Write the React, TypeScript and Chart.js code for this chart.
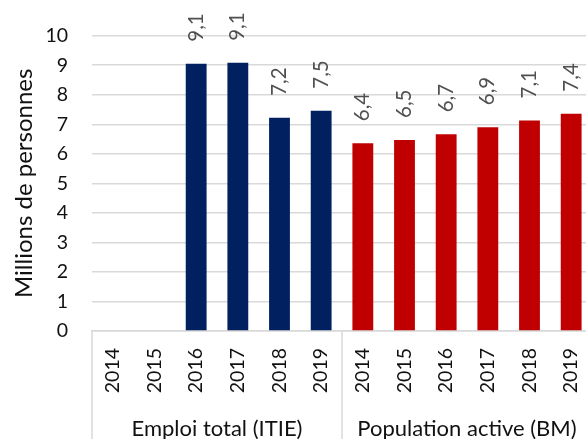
import React, { useEffect, useRef } from "react";
import { Chart, registerables } from "chart.js";

Chart.register(...registerables);

const categories = ["2014", "2015", "2016", "2017", "2018", "2019", "2014", "2015", "2016", "2017", "2018", "2019"];
const groups = ["Emploi total (ITIE)", "Population active (BM)"];
const emploiTotal: (number | null)[] = [null, null, 9.05, 9.08, 7.22, 7.46];
const populationActive: (number | null)[] = [6.36, 6.47, 6.66, 6.9, 7.13, 7.36];
const yTitle = "Millions de personnes";
const yMin = 0;
const yMax = 10;

const FONT = "Lato";

const fmt = (v: number) => v.toFixed(1).replace(".", ",");

const overlay = {
  id: "overlay",
  afterDatasetsDraw(chart: any) {
    const ctx = chart.ctx;
    chart.data.datasets.forEach((ds: any, di: number) => {
      const meta = chart.getDatasetMeta(di);
      meta.data.forEach((bar: any, i: number) => {
        const v = ds.data[i];
        if (v == null) return;
        ctx.save();
        ctx.translate(bar.x, bar.y - 22);
        ctx.rotate(-Math.PI / 2);
        ctx.font = `20.5px ${FONT}`;
        ctx.fillStyle = "#505050";
        ctx.textAlign = "left";
        ctx.textBaseline = "middle";
        ctx.fillText(fmt(v), 0, 0);
        ctx.restore();
      });
    });
  },
  afterDraw(chart: any) {
    const ctx = chart.ctx;
    const xs = chart.scales.x;
    const ys = chart.scales.y;
    const bottom = chart.height;
    // year labels
    categories.forEach((c, i) => {
      const px = xs.getPixelForValue(i);
      ctx.save();
      ctx.translate(px, xs.top + 17);
      ctx.rotate(-Math.PI / 2);
      ctx.font = `19.5px ${FONT}`;
      ctx.fillStyle = "#111";
      ctx.textAlign = "right";
      ctx.textBaseline = "middle";
      ctx.fillText(c, 0, 0);
      ctx.restore();
    });
    // separators
    const n = emploiTotal.length;
    const sepX = [
      xs.left,
      (xs.getPixelForValue(n - 1) + xs.getPixelForValue(n)) / 2,
      xs.right,
    ];
    ctx.save();
    ctx.strokeStyle = "#d9d9d9";
    ctx.lineWidth = 1.5;
    sepX.forEach((sx) => {
      ctx.beginPath();
      ctx.moveTo(sx, xs.top);
      ctx.lineTo(sx, bottom);
      ctx.stroke();
    });
    ctx.restore();
    // group labels
    const centers = [(sepX[0] + sepX[1]) / 2, (sepX[1] + sepX[2]) / 2];
    groups.forEach((g, gi) => {
      ctx.save();
      ctx.font = `22px ${FONT}`;
      ctx.fillStyle = "#111";
      ctx.textAlign = "center";
      ctx.textBaseline = "alphabetic";
      ctx.fillText(g, centers[gi], 436);
      ctx.restore();
    });
    // y title
    ctx.save();
    ctx.translate(24, (ys.top + ys.bottom) / 2);
    ctx.rotate(-Math.PI / 2);
    ctx.font = `24px ${FONT}`;
    ctx.fillStyle = "#111";
    ctx.textAlign = "center";
    ctx.textBaseline = "middle";
    ctx.fillText(yTitle, 0, 0);
    ctx.restore();
  },
};

export default function App() {
  const ref = useRef<HTMLCanvasElement | null>(null);
  useEffect(() => {
    if (!ref.current) return;
    const pad = (arr: (number | null)[], before: number, after: number) => [
      ...Array(before).fill(null),
      ...arr,
      ...Array(after).fill(null),
    ];
    const chart = new Chart(ref.current, {
      type: "bar",
      data: {
        labels: categories,
        datasets: [
          {
            label: groups[0],
            data: pad(emploiTotal, 0, populationActive.length),
            backgroundColor: "#002060",
            skipNull: true,
            barPercentage: 0.5,
            categoryPercentage: 1,
          } as any,
          {
            label: groups[1],
            data: pad(populationActive, emploiTotal.length, 0),
            backgroundColor: "#C00000",
            skipNull: true,
            barPercentage: 0.5,
            categoryPercentage: 1,
          } as any,
        ],
      },
      options: {
        responsive: false,
        animation: false,
        layout: { padding: { top: 32, right: 8, left: 0, bottom: 0 } },
        plugins: { legend: { display: false }, tooltip: { enabled: false }, title: { display: false } },
        scales: {
          x: {
            ticks: { display: false },
            grid: { display: false, drawTicks: false },
            border: { display: true, color: "#d9d9d9", width: 1.5 },
            afterFit: (s: any) => {
              s.height = 108;
            },
          },
          y: {
            min: yMin,
            max: yMax,
            ticks: {
              stepSize: 1,
              padding: 24,
              color: "#111",
              font: { family: FONT, size: 19.5 },
            },
            grid: { color: "#d9d9d9", lineWidth: 1.5, drawTicks: false },
            border: { display: false },
            afterFit: (s: any) => {
              s.width = 92;
            },
          },
        },
      },
      plugins: [overlay],
    });
    return () => chart.destroy();
  }, []);
  return (
    <div style={{ position: "fixed", left: 0, top: 0, width: 586, height: 439, overflow: "hidden", background: "#fff" }}>
      <canvas ref={ref} width={600} height={439} style={{ display: "block" }} />
    </div>
  );
}
